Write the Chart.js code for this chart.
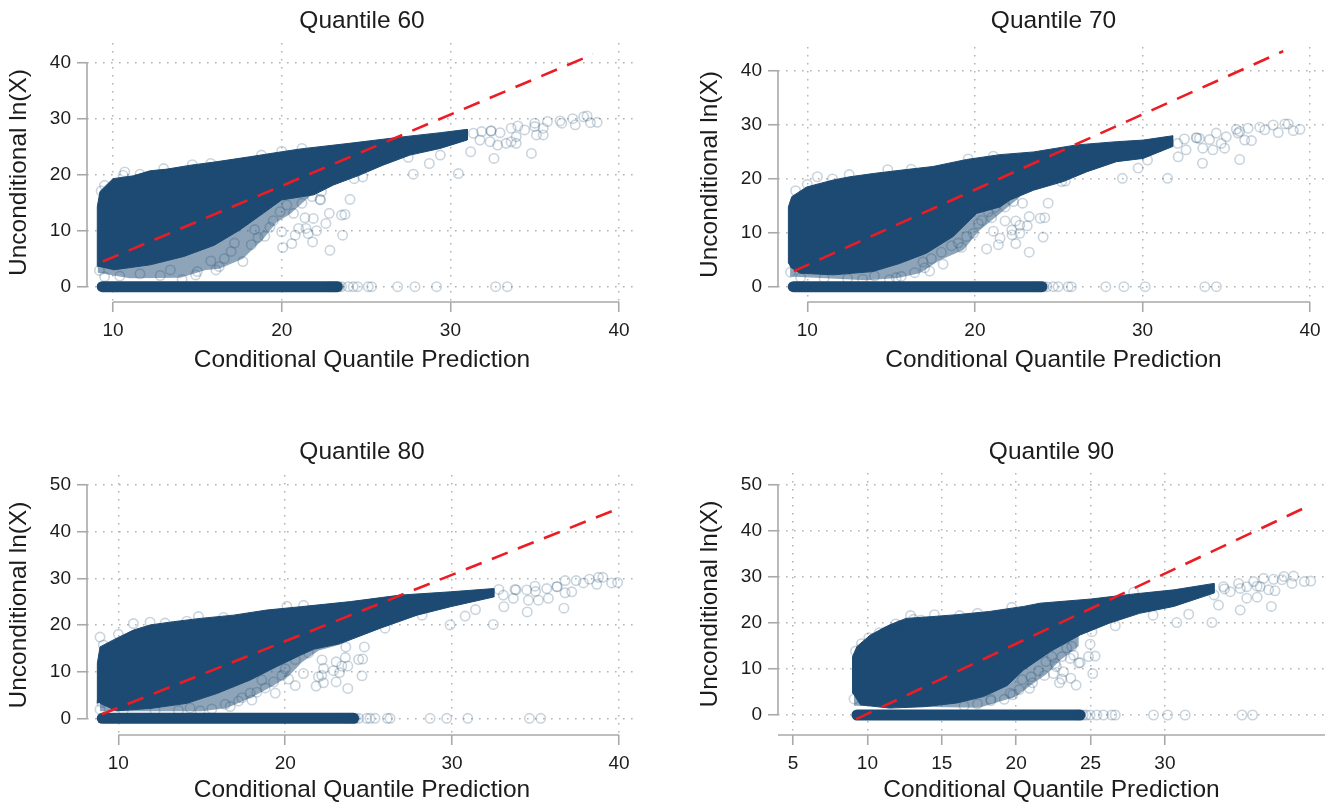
<!DOCTYPE html>
<html>
<head>
<meta charset="utf-8">
<title>Quantile scatter</title>
<script src="https://cdn.jsdelivr.net/npm/chart.js@4"></script>
<style>
  html, body { margin: 0; background: #fff; overflow: hidden; }
  canvas { position: absolute; }
</style>
</head>
<body>
<canvas id="q60"></canvas>
<canvas id="q70"></canvas>
<canvas id="q80"></canvas>
<canvas id="q90"></canvas>
<script>
// all values as [x, y]
const xTicks = [10, 20, 30, 40];
const xTicks90 = [5, 10, 15, 20, 25, 30];
const yTicksLow = [0, 10, 20, 30, 40];
const yTicksHigh = [0, 10, 20, 30, 40, 50];

// ---- Quantile 60
const q60Line = [[9.4, 4.5], [38.45, 41.5]];
const q60Zero = [[9.36, 0], [23.3, 0]];
const q60Cloud = [[9.07, 3.6], [9.07, 14.3], [9.23, 17], [10, 19.3], [11.2, 19.8], [12.2, 20.7], [13.2, 21], [14.6, 21.7], [16.1, 22.3], [18.1, 23.2], [20, 24.1], [21.1, 24.6], [24, 25.6], [27, 26.7], [29.4, 27.5], [31, 28.1], [31, 26.2], [29.4, 24.7], [27.6, 23.5], [26, 21.7], [24.6, 19.9], [23.06, 18.15], [21.9, 16.4], [20, 15.5], [18.9, 13.1], [17.5, 10.1], [16, 7.4], [14.2, 5.4], [12.2, 3.9], [10, 3]];
const q60Halo = [[9.1, 8], [9.1, 2.5], [11, 1.5], [14, 1.6], [15.5, 3], [16.3, 3.2], [17.7, 5], [18.9, 8.5], [19.7, 11.5], [20.5, 13], [21.8, 16.5], [23.1, 18.3], [23.1, 20]];
const q60Rings = [[24.05, 15.6], [22.82, 13.1], [23.55, 12.8], [23.75, 12.9], [21.87, 12.2], [21.38, 12.3], [22.62, 11.3], [21.44, 10.4], [22.07, 10], [23.61, 9.2], [21.57, 9.5], [21.83, 8], [22.86, 6.5], [27.8, 20.1], [28.75, 22], [30.47, 20.2], [32.58, 22.9], [34.8, 23.8], [29.4, 23.5], [27.5, 23.1], [31.2, 24.1], [22.27, 15.6], [22.36, 17], [24.8, 19.6], [24.3, 19.3], [20.06, 7], [20.6, 7.7], [20.8, 9.2], [21, 10.4], [20, 9.8], [20.7, 13.1], [22.3, 15.5], [21.8, 16.1], [21.2, 14.9], [17.7, 4.5], [16.1, 3], [14.9, 2.1], [14.1, 1.3], [15, 2.7], [16.3, 3.6],
  [31.36, 27.4], [31.85, 27.7], [32.4, 27.85], [32.42, 27.8], [32.94, 27.5], [33.6, 28.3], [34, 28.7], [34.4, 28], [35, 28.6], [35, 29.2], [35.75, 29.5], [36.5, 29.6], [36.6, 29.2], [37.25, 30], [37.4, 28.9], [37.9, 30.35], [38.1, 30.5], [38.3, 29.3], [38.7, 29.35], [35.5, 27.1], [35.1, 27.1], [33.9, 26.8], [33.3, 25.6], [32.8, 25.3], [32.35, 25.9], [31.75, 26.2], [33.9, 25.6], [33.6, 25.9], [35.5, 28.3],
  [18.2, 7.5], [18.6, 8.8], [19, 9], [19.3, 10.6], [19.5, 11.8], [18.4, 10.2], [17.2, 7.8], [17, 6.3], [16.6, 5], [15.8, 4.6], [19.9, 13.4], [20.3, 14.6], [9.2, 2.9], [9.5, 1.8], [10.4, 1.9], [11.6, 2.3], [12.8, 2], [13.4, 3], [10.6, 19.9], [10.7, 20.5], [11.6, 20.1], [13, 21.1], [14.7, 21.8], [9.5, 18.1], [9.3, 17.1], [20, 24.2], [21.2, 24.7], [15.8, 22], [18.8, 23.5]];
const q60ZeroRings = [[22.8, 0], [23, 0], [23.2, 0], [23.4, 0], [23.55, 0], [23.95, 0], [24.24, 0], [24.5, 0], [25.13, 0], [25.33, 0], [26.87, 0], [27.9, 0], [29.18, 0], [32.68, 0], [33.37, 0]];

// ---- Quantile 70
const q70Line = [[9.2, 2.9], [38.4, 43.7]];
const q70Zero = [[9.16, 0], [24, 0]];
const q70Cloud = [[8.87, 4.3], [8.87, 14.8], [9.07, 16.7], [9.96, 18.5], [11.55, 19.8], [12.55, 20.4], [13.94, 21], [15.53, 21.6], [17.5, 22.3], [19.5, 23.6], [21.5, 24.5], [23.5, 25], [26.06, 26.3], [28.45, 26.9], [30.04, 27.2], [31.8, 28], [31.8, 26], [30.04, 23.8], [28.45, 23.2], [26.66, 21.3], [25.27, 19.5], [23.5, 17.9], [22.1, 16.1], [21.5, 14.8], [20.1, 13.6], [18.7, 9.3], [17.1, 6.2], [15.5, 4.3], [13.9, 2.8], [11.55, 2.2], [9.56, 2.5], [8.97, 3.7]];
const q70Halo = [[9, 8], [8.97, 1.9], [13.5, 1.2], [15.4, 1.6], [16.7, 2.5], [17.9, 4.9], [19.3, 6.8], [20.3, 10.5], [21.5, 13.6], [22.7, 16.7], [22.7, 20]];
const q70Rings = [[24.37, 15.5], [22.84, 15.5], [22.3, 15.8], [21.8, 14.8], [23.24, 13], [23.9, 12.7], [24.17, 12.8], [22.44, 12.2], [21.8, 12.2], [23.12, 11.3], [22.68, 11.4], [22.2, 10.5], [22.22, 9.6], [22.68, 9.9], [24.07, 9.2], [22.44, 8], [23.24, 6.4], [28.8, 20.1], [31.5, 20.1], [29.74, 22], [33.58, 22.9], [35.8, 23.6], [30.3, 23.5], [32.13, 24.1], [25.17, 19.5], [25.4, 19.6], [20.7, 7], [21.4, 7.8], [21.5, 9], [21.1, 10.3], [20.4, 12.3], [21, 12.8], [21.2, 14.7], [18.1, 4.2], [17.3, 2.9], [15.6, 1.9], [14.9, 1.3], [15.3, 1.7],
  [33.2, 27.65], [33.25, 27.6], [33.4, 27.5], [34.4, 28.5], [35, 27.8], [35.7, 28.5], [35.8, 28.8], [35.6, 29.2], [36.3, 29.4], [37, 29.6], [37.3, 29.1], [37.8, 30], [38.1, 28.6], [38.5, 30.2], [38.7, 30.2], [39, 28.95], [39.4, 29.2], [36.5, 27.1], [36.1, 27.2], [34.9, 25.7], [34.2, 25.4], [33.6, 25.7], [32.1, 26.6], [32.6, 25.4], [32.5, 27.4], [34, 27.3], [34.7, 26.6],
  [17.4, 5.2], [18, 6.4], [18.6, 7.6], [19, 8.1], [19.5, 9.3], [19.2, 7.3], [19.9, 9.9], [17, 3.5], [16.4, 2.6], [16.9, 4.6], [20.2, 11.7], [20.8, 13.9], [9, 2.7], [9.6, 1.7], [11, 1.6], [12.4, 1.5], [13.3, 1.4], [14, 2], [9.3, 17.8], [10, 19], [10.6, 20.4], [11.5, 20], [12.5, 20.8], [14.8, 21.7], [16.2, 21.8], [19.6, 23.7], [21.1, 24.2]];
const q70ZeroRings = [[23.5, 0], [23.8, 0], [24.1, 0], [24.3, 0], [24.67, 0], [24.97, 0], [25.57, 0], [25.76, 0], [27.81, 0], [28.89, 0], [30.16, 0], [33.72, 0], [34.41, 0]];

// ---- Quantile 80
const q80Line = [[9, 0.85], [39.9, 44.85]];
const q80Zero = [[9.03, 0], [24.1, 0]];
const q80Cloud = [[8.74, 3.2], [8.74, 11.8], [8.9, 15.3], [9.7, 16.8], [10.9, 18.9], [11.9, 20], [13.3, 20.7], [14.9, 21.4], [16.9, 22.1], [18.9, 23.2], [20.9, 23.9], [23.9, 25], [26.9, 26.4], [29.9, 27.1], [32.5, 27.8], [32.5, 26], [29.9, 23.9], [27.9, 22.1], [25.7, 19.3], [23.3, 16], [21.7, 14.8], [20.9, 13.5], [19.5, 11.1], [17.9, 8.2], [15.9, 5.3], [14.1, 3.2], [11.9, 2.1], [9.9, 1.6], [8.9, 3.2]];
const q80Halo = [[8.9, 8], [8.9, 1.5], [15, 1.5], [16.5, 2.2], [18, 4.5], [19.3, 7], [20.2, 9], [21, 12], [22, 14.5], [23.3, 15.8], [23.3, 20]];
const q80Rings = [[24.74, 15.3], [23.63, 15.3], [24.64, 12.7], [24.4, 12.6], [23.6, 13], [23.05, 12.1], [22.2, 12.5], [22.29, 10.7], [23.75, 11.2], [23.39, 11.2], [22.89, 10.2], [23.25, 9.8], [24.6, 9.1], [21.99, 8.9], [23.05, 7.8], [22.29, 7.6], [21.85, 6.9], [23.75, 6.4], [21.09, 9.6], [22.19, 9.2], [29.88, 20], [32.47, 20.1], [30.78, 21.9], [34.5, 22.8], [36.7, 23.6], [31.4, 23.3], [33.1, 23.9], [25.98, 19.3], [28.2, 22.1], [17.4, 4.4], [16.4, 3], [15.6, 2], [14.9, 1.6], [16.7, 2.5], [20.6, 7], [20.2, 8.4],
  [33.77, 27.6], [33.83, 27.5], [34.47, 27.5], [34.97, 28.3], [35.67, 27.8], [36.27, 28.2], [36.3, 28.2], [36.77, 29.5], [37.43, 29.5], [37.87, 29], [38.23, 29.8], [38.67, 28.7], [38.77, 30.2], [39.03, 30.2], [39.56, 29], [39.92, 29.1], [37.17, 27.1], [36.77, 26.9], [35.77, 25.7], [35.17, 25.3], [34.57, 25.3], [33.07, 26.4], [33.67, 25.7], [35, 27.2], [32.8, 27.6],
  [18.3, 5.6], [18.8, 6.5], [19.3, 7.8], [19.8, 9.2], [20, 10.6], [18.6, 8.2], [17.9, 5.4], [17.2, 3.7], [18, 3.9], [19.4, 5.4], [20.6, 12.6], [21.4, 14], [8.9, 1.9], [9, 3.4], [10.3, 1.7], [12.2, 1.6], [13.6, 1.7], [14.3, 2.2], [8.9, 17.4], [9.1, 15.7], [10, 18], [10.9, 20.3], [11.9, 20.6], [12.8, 20.4], [14.1, 20.8], [14.8, 21.8], [16.3, 21.6], [20.1, 24], [21.1, 24.2]];
const q80ZeroRings = [[23.7, 0], [24, 0], [24.2, 0], [24.4, 0], [24.88, 0], [25.08, 0], [25.38, 0], [26.12, 0], [26.28, 0], [28.68, 0], [29.68, 0], [30.94, 0], [34.63, 0], [35.31, 0]];

// ---- Quantile 90
const q90Line = [[9.24, -0.9], [39.8, 45.65]];
const q90Zero = [[9.3, 0], [24.3, 0]];
const q90Cloud = [[9, 4.7], [9, 12.7], [9.3, 14.9], [10.2, 17.4], [11.5, 19.6], [12.6, 21], [14.4, 21.4], [16, 21.8], [18.2, 22.5], [20.5, 23.6], [21.6, 24.3], [25, 25.2], [27.9, 26.3], [30.6, 27.2], [33.3, 28.6], [33.3, 26.5], [30.6, 23.6], [28.3, 22.1], [26.3, 20], [24.3, 17.4], [22.3, 13.8], [20.5, 9.8], [19.4, 6.4], [17.8, 4], [16, 2.6], [13.8, 1.8], [11.5, 1.5], [9.5, 2.2]];
const q90Halo = [[9.1, 8], [9.1, 2], [17.5, 1.6], [18.8, 2.8], [20, 4], [21, 6.5], [22, 8.8], [23, 12], [24.2, 15], [24.2, 20]];
const q90Rings = [[24.97, 15.4], [25.09, 18.1], [25.31, 12.8], [24.86, 12.7], [25.15, 9], [24.3, 11.4], [24.2, 11.3], [24.03, 6.5], [23.67, 8], [23.07, 12.7], [22.62, 11.2], [22.5, 9], [22.7, 10.5], [23.18, 9.4], [22.91, 7], [23.07, 7.8], [23.85, 13], [23.63, 12.3], [23.74, 14.9], [19.77, 4.4], [26.66, 19.4], [30.8, 20.1], [33.16, 20.1], [31.6, 21.9], [35.06, 22.8], [37.15, 23.6], [33.6, 23.9], [29.2, 21.7], [18.3, 3.1], [18.3, 3.4], [19.2, 3.4], [17.4, 2.4], [16.5, 2],
  [33.94, 27.9], [34.95, 28.6], [35.5, 25.4], [36.2, 25.6], [36.4, 27.9], [35.96, 29], [36.63, 29.7], [37.3, 29.5], [37.87, 29.4], [38, 30.1], [38.54, 28.6], [38.65, 30.2], [39.37, 29], [39.8, 29.1], [37.4, 27], [36.97, 27.2], [35.5, 27.9], [35.06, 27.5], [34.39, 26.8], [33.3, 26.1], [34, 27.4], [36.2, 28],
  [20.4, 7.7], [21, 8.3], [21.5, 9.6], [21.1, 7], [22, 11.6], [22.4, 12.7], [20.2, 5.5], [19.6, 4.7], [20.9, 5.8], [21.9, 8.6], [23.4, 14.6], [9.1, 3.5], [9.2, 13.9], [9.6, 15.5], [10.1, 16.8], [10.8, 17.9], [11.2, 18.1], [11.9, 19.8], [12.2, 19.5], [12.9, 21.6], [13.1, 20.8], [13.6, 20.6], [14.5, 21.8], [16.2, 21.6], [17.4, 22.1], [19.7, 23.4], [27.9, 26.7]];
const q90ZeroRings = [[24.2, 0], [24.5, 0], [24.7, 0], [24.97, 0], [25.42, 0], [25.87, 0], [26.43, 0], [26.66, 0], [29.23, 0], [30.18, 0], [31.36, 0], [35.18, 0], [35.89, 0]];

const blue = '#1d4a72';
const ringBlue = 'rgba(29,74,114,0.24)';
const axisGrey = '#a9a9a9';
const textCol = '#1c1c1c';
const fontFam = '"Liberation Sans", Arial, sans-serif';

function pts(list) {
  return list.map(function (p) { return { x: p[0], y: p[1] }; });
}

// stata style axis lines, they stop at the outer ticks
const axisSpan = {
  id: 'axisSpan',
  afterDraw(chart, args, opts) {
    const ctx = chart.ctx, a = chart.chartArea;
    const xs = chart.scales.x, ys = chart.scales.y;
    ctx.save();
    ctx.strokeStyle = axisGrey;
    ctx.lineWidth = 1.6;
    ctx.beginPath();
    ctx.moveTo(a.left, ys.getPixelForValue(ys.ticks[0].value));
    ctx.lineTo(a.left, ys.getPixelForValue(ys.ticks[ys.ticks.length - 1].value));
    const x0 = opts.xFull ? a.left : xs.getPixelForValue(xs.ticks[0].value);
    const x1 = opts.xFull ? a.right : xs.getPixelForValue(xs.ticks[xs.ticks.length - 1].value);
    ctx.moveTo(x0, a.bottom);
    ctx.lineTo(x1, a.bottom);
    ctx.stroke();
    ctx.restore();
  }
};

function panel(id, name, s) {
  const c = document.getElementById(id);
  c.style.left = s.left + 'px';
  c.style.top = s.top + 'px';
  c.width = 660;
  c.height = 380;
  const grid = {
    color: '#b4b4b4', lineWidth: 1.5, tickColor: axisGrey, tickWidth: 1.6, tickLength: 10, tickBorderDash: []
  };
  const border = { display: false, dash: [1.6, 6.4] };
  new Chart(c, {
    type: 'scatter',
    data: {
      datasets: [
        { type: 'line', data: pts(s.line), borderColor: '#ec1c24', borderWidth: 2.6, borderDash: [17, 11], pointRadius: 0, fill: false, clip: false },
        { data: pts(s.rings), pointRadius: 4.7, pointBorderWidth: 1.6, pointBorderColor: ringBlue, pointBackgroundColor: 'transparent', clip: false },
        { data: pts(s.zeroRings), pointRadius: 4.7, pointBorderWidth: 1.6, pointBorderColor: ringBlue, pointBackgroundColor: 'transparent', clip: false },
        { type: 'line', data: pts(s.zero), borderColor: blue, borderWidth: 11, borderCapStyle: 'round', pointRadius: 0, fill: false, clip: false },
        { type: 'line', data: pts(s.cloud), borderColor: blue, borderWidth: 1, backgroundColor: blue, pointRadius: 0, fill: 'shape', tension: 0, clip: false },
        { type: 'line', data: pts(s.halo), borderWidth: 0, backgroundColor: 'rgba(29,74,114,0.5)', pointRadius: 0, fill: 'shape', tension: 0, clip: false }
      ]
    },
    options: {
      responsive: false,
      animation: false,
      layout: { padding: { right: 660 - 87 - s.width } },
      plugins: {
        legend: { display: false },
        tooltip: { enabled: false },
        axisSpan: { xFull: s.xFull },
        title: {
          display: true, text: name, fullSize: false, color: textCol,
          font: { family: fontFam, size: 24.5, weight: 'normal', lineHeight: 1.2 },
          padding: { top: s.titleCentre - 14.7, bottom: s.areaTop - s.titleCentre - 14.7 }
        }
      },
      scales: {
        x: {
          type: 'linear', min: s.xMin, max: s.xMax,
          afterBuildTicks: function (sc) { sc.ticks = s.xTicks.map(function (v) { return { value: v }; }); },
          afterFit: function (sc) { sc.height = 380 - s.areaBottom; },
          grid: grid, border: border,
          ticks: { color: textCol, font: { family: fontFam, size: 19 }, padding: 7, maxRotation: 0, autoSkip: false },
          title: { display: true, text: 'Conditional Quantile Prediction', color: textCol, font: { family: fontFam, size: 24.5, lineHeight: 1.2 }, padding: { top: 0, bottom: 5 } }
        },
        y: {
          type: 'linear', min: s.yMin, max: s.yMax,
          afterBuildTicks: function (sc) { sc.ticks = s.yTicks.map(function (v) { return { value: v }; }); },
          afterFit: function (sc) { sc.width = 87; },
          grid: grid, border: border,
          ticks: { color: textCol, font: { family: fontFam, size: 19 }, padding: 6, autoSkip: false },
          title: { display: true, text: 'Unconditional ln(X)', color: textCol, font: { family: fontFam, size: 24.5, lineHeight: 1.2 }, padding: { top: 5, bottom: 0 } }
        }
      }
    },
    plugins: [axisSpan]
  });
}

panel('q60', 'Quantile 60', { left: 0, top: 0, width: 550, areaTop: 43, areaBottom: 302, titleCentre: 21, xMin: 8.46, xMax: 41.06, yMin: -2.73, yMax: 43.52, xTicks: xTicks, yTicks: yTicksLow, line: q60Line, zero: q60Zero, cloud: q60Cloud, halo: q60Halo, rings: q60Rings, zeroRings: q60ZeroRings });
panel('q70', 'Quantile 70', { left: 691, top: 0, width: 551, areaTop: 47, areaBottom: 302, titleCentre: 21, xMin: 8.25, xMax: 41.13, yMin: -2.84, yMax: 44.47, xTicks: xTicks, yTicks: yTicksLow, line: q70Line, zero: q70Zero, cloud: q70Cloud, halo: q70Halo, rings: q70Rings, zeroRings: q70ZeroRings });
panel('q80', 'Quantile 80', { left: 0, top: 430, width: 550, areaTop: 45, areaBottom: 305, titleCentre: 22, xMin: 8.12, xMax: 41.08, yMin: -3.58, yMax: 52.13, xTicks: xTicks, yTicks: yTicksHigh, line: q80Line, zero: q80Zero, cloud: q80Cloud, halo: q80Halo, rings: q80Rings, zeroRings: q80ZeroRings });
panel('q90', 'Quantile 90', { left: 691, top: 430, width: 547, areaTop: 43, areaBottom: 305, titleCentre: 22, xFull: true, xMin: 3.99, xMax: 40.76, yMin: -4.35, yMax: 52.6, xTicks: xTicks90, yTicks: yTicksHigh, line: q90Line, zero: q90Zero, cloud: q90Cloud, halo: q90Halo, rings: q90Rings, zeroRings: q90ZeroRings });
</script>
</body>
</html>
